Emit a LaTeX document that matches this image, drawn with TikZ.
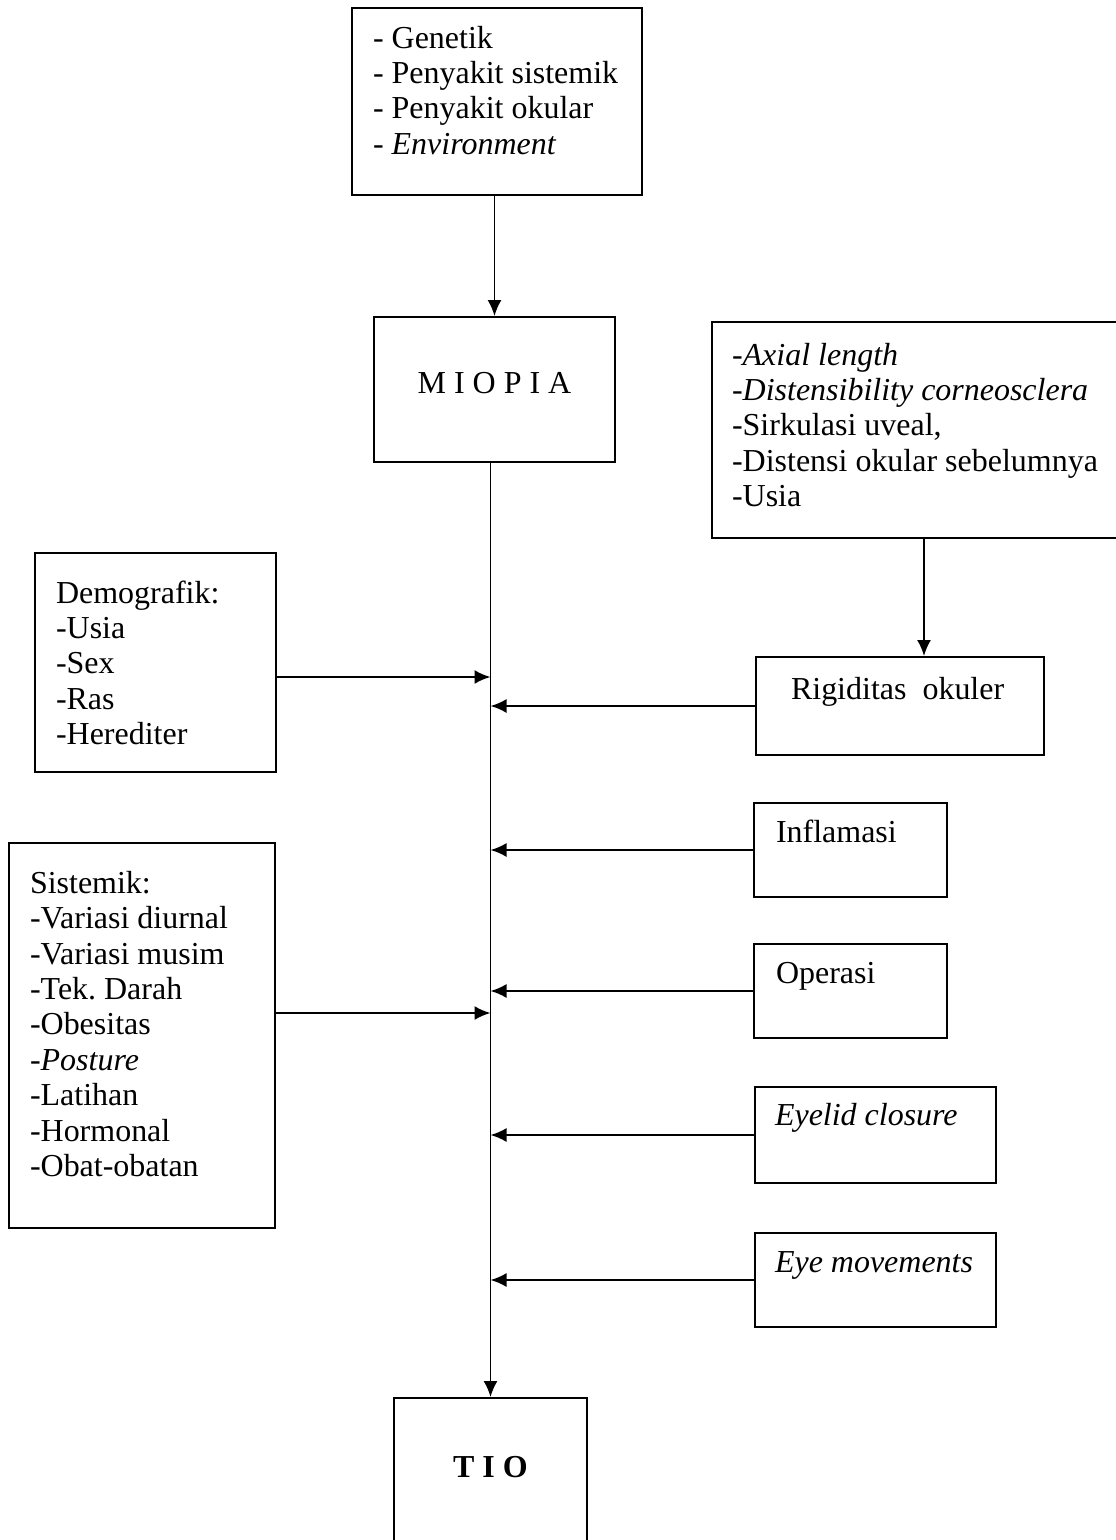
\documentclass[tikz,border=0pt]{standalone}
\usepackage{fontspec}
\setmainfont{Liberation Serif}
\usetikzlibrary{arrows.meta}
\frenchspacing

\begin{document}
\begin{tikzpicture}[x=0.02cm, y=-0.02cm, >={Latex[length=0.32cm,width=0.28cm]}]
 \useasboundingbox (0,0) rectangle (1115,1540);
 \begin{scope}[every node/.style={rectangle,draw=black,line width=1.1pt,inner ysep=0pt,align=flush left,font=\fontsize{18.2}{20.2}\selectfont}]
    \node (faktor) [text width=4.96cm, inner xsep=0.42cm, text height=0.8cm, text depth=2.94cm] at (497,101.5)
       {- Genetik\\- Penyakit sistemik\\- Penyakit okular\\- \textit{Environment}};
    \node (miopia) [text width=4.82cm, inner xsep=0pt, align=flush center, text height=1.54cm, text depth=1.36cm] at (494.5,389.5) {M I O P I A};
    \node (rigfaktor) [text width=7.68cm, inner xsep=0.4cm, text height=0.86cm, text depth=3.46cm] at (924,430)
       {-\textit{Axial length}\\-\textit{Distensibility corneosclera}\\-Sirkulasi uveal,\\-Distensi okular sebelumnya\\-Usia};
    \node (demo) [text width=3.98cm, inner xsep=0.42cm, text height=1cm, text depth=3.38cm] at (155.5,662.5)
       {Demografik:\\-Usia\\-Sex\\-Ras\\-Herediter};
    \node (rigid) [text width=4.36cm, inner xsep=0.7cm, text height=0.84cm, text depth=1.12cm] at (900,706) {Rigiditas\ \ okuler};
    \node (sistem) [text width=4.48cm, inner xsep=0.42cm, text height=1cm, text depth=6.7cm] at (142,1035.5)
       {Sistemik:\\-Variasi diurnal\\-Variasi musim\\-Tek. Darah\\-Obesitas\\-\textit{Posture}\\-Latihan\\-Hormonal\\-Obat-obatan};
    \node (inflam) [text width=2.98cm, inner xsep=0.44cm, text height=0.78cm, text depth=1.1cm] at (850.5,850) {Inflamasi};
    \node (operasi) [text width=2.98cm, inner xsep=0.44cm, text height=0.78cm, text depth=1.1cm] at (850.5,991) {Operasi};
    \node (eyelid) [text width=4.02cm, inner xsep=0.4cm, text height=0.76cm, text depth=1.16cm] at (875.5,1135) {\textit{Eyelid closure}};
    \node (eyemov) [text width=4.02cm, inner xsep=0.4cm, text height=0.78cm, text depth=1.1cm] at (875.5,1280) {\textit{Eye movements}};
    \node (tio) [text width=3.86cm, inner xsep=0pt, align=flush center, text height=1.58cm, text depth=1.66cm] at (490.5,1479) {\textbf{T I O}};
 \end{scope}
 \coordinate (trunk) at (tio.north);
 \coordinate (demoout) at ([yshift=-0.29cm]demo.east);
 \coordinate (sistemout) at ([yshift=0.45cm]sistem.east);
 \begin{scope}[every edge/.style={draw=black, line width=1.1pt, ->}]
   \draw (faktor.south -| miopia.north) edge (miopia.north);
   \draw (rigfaktor.south) edge (rigfaktor.south |- rigid.north);
   \draw (trunk |- miopia.south) edge (trunk);
   \draw (demoout) edge (demoout -| trunk);
   \draw (sistemout) edge (sistemout -| trunk);
   \draw (rigid.west) edge (rigid.west -| trunk);
   \draw (inflam.west) edge (inflam.west -| trunk);
   \draw (operasi.west) edge (operasi.west -| trunk);
   \draw (eyelid.west) edge (eyelid.west -| trunk);
   \draw (eyemov.west) edge (eyemov.west -| trunk);
 \end{scope}
\end{tikzpicture}
\end{document}
